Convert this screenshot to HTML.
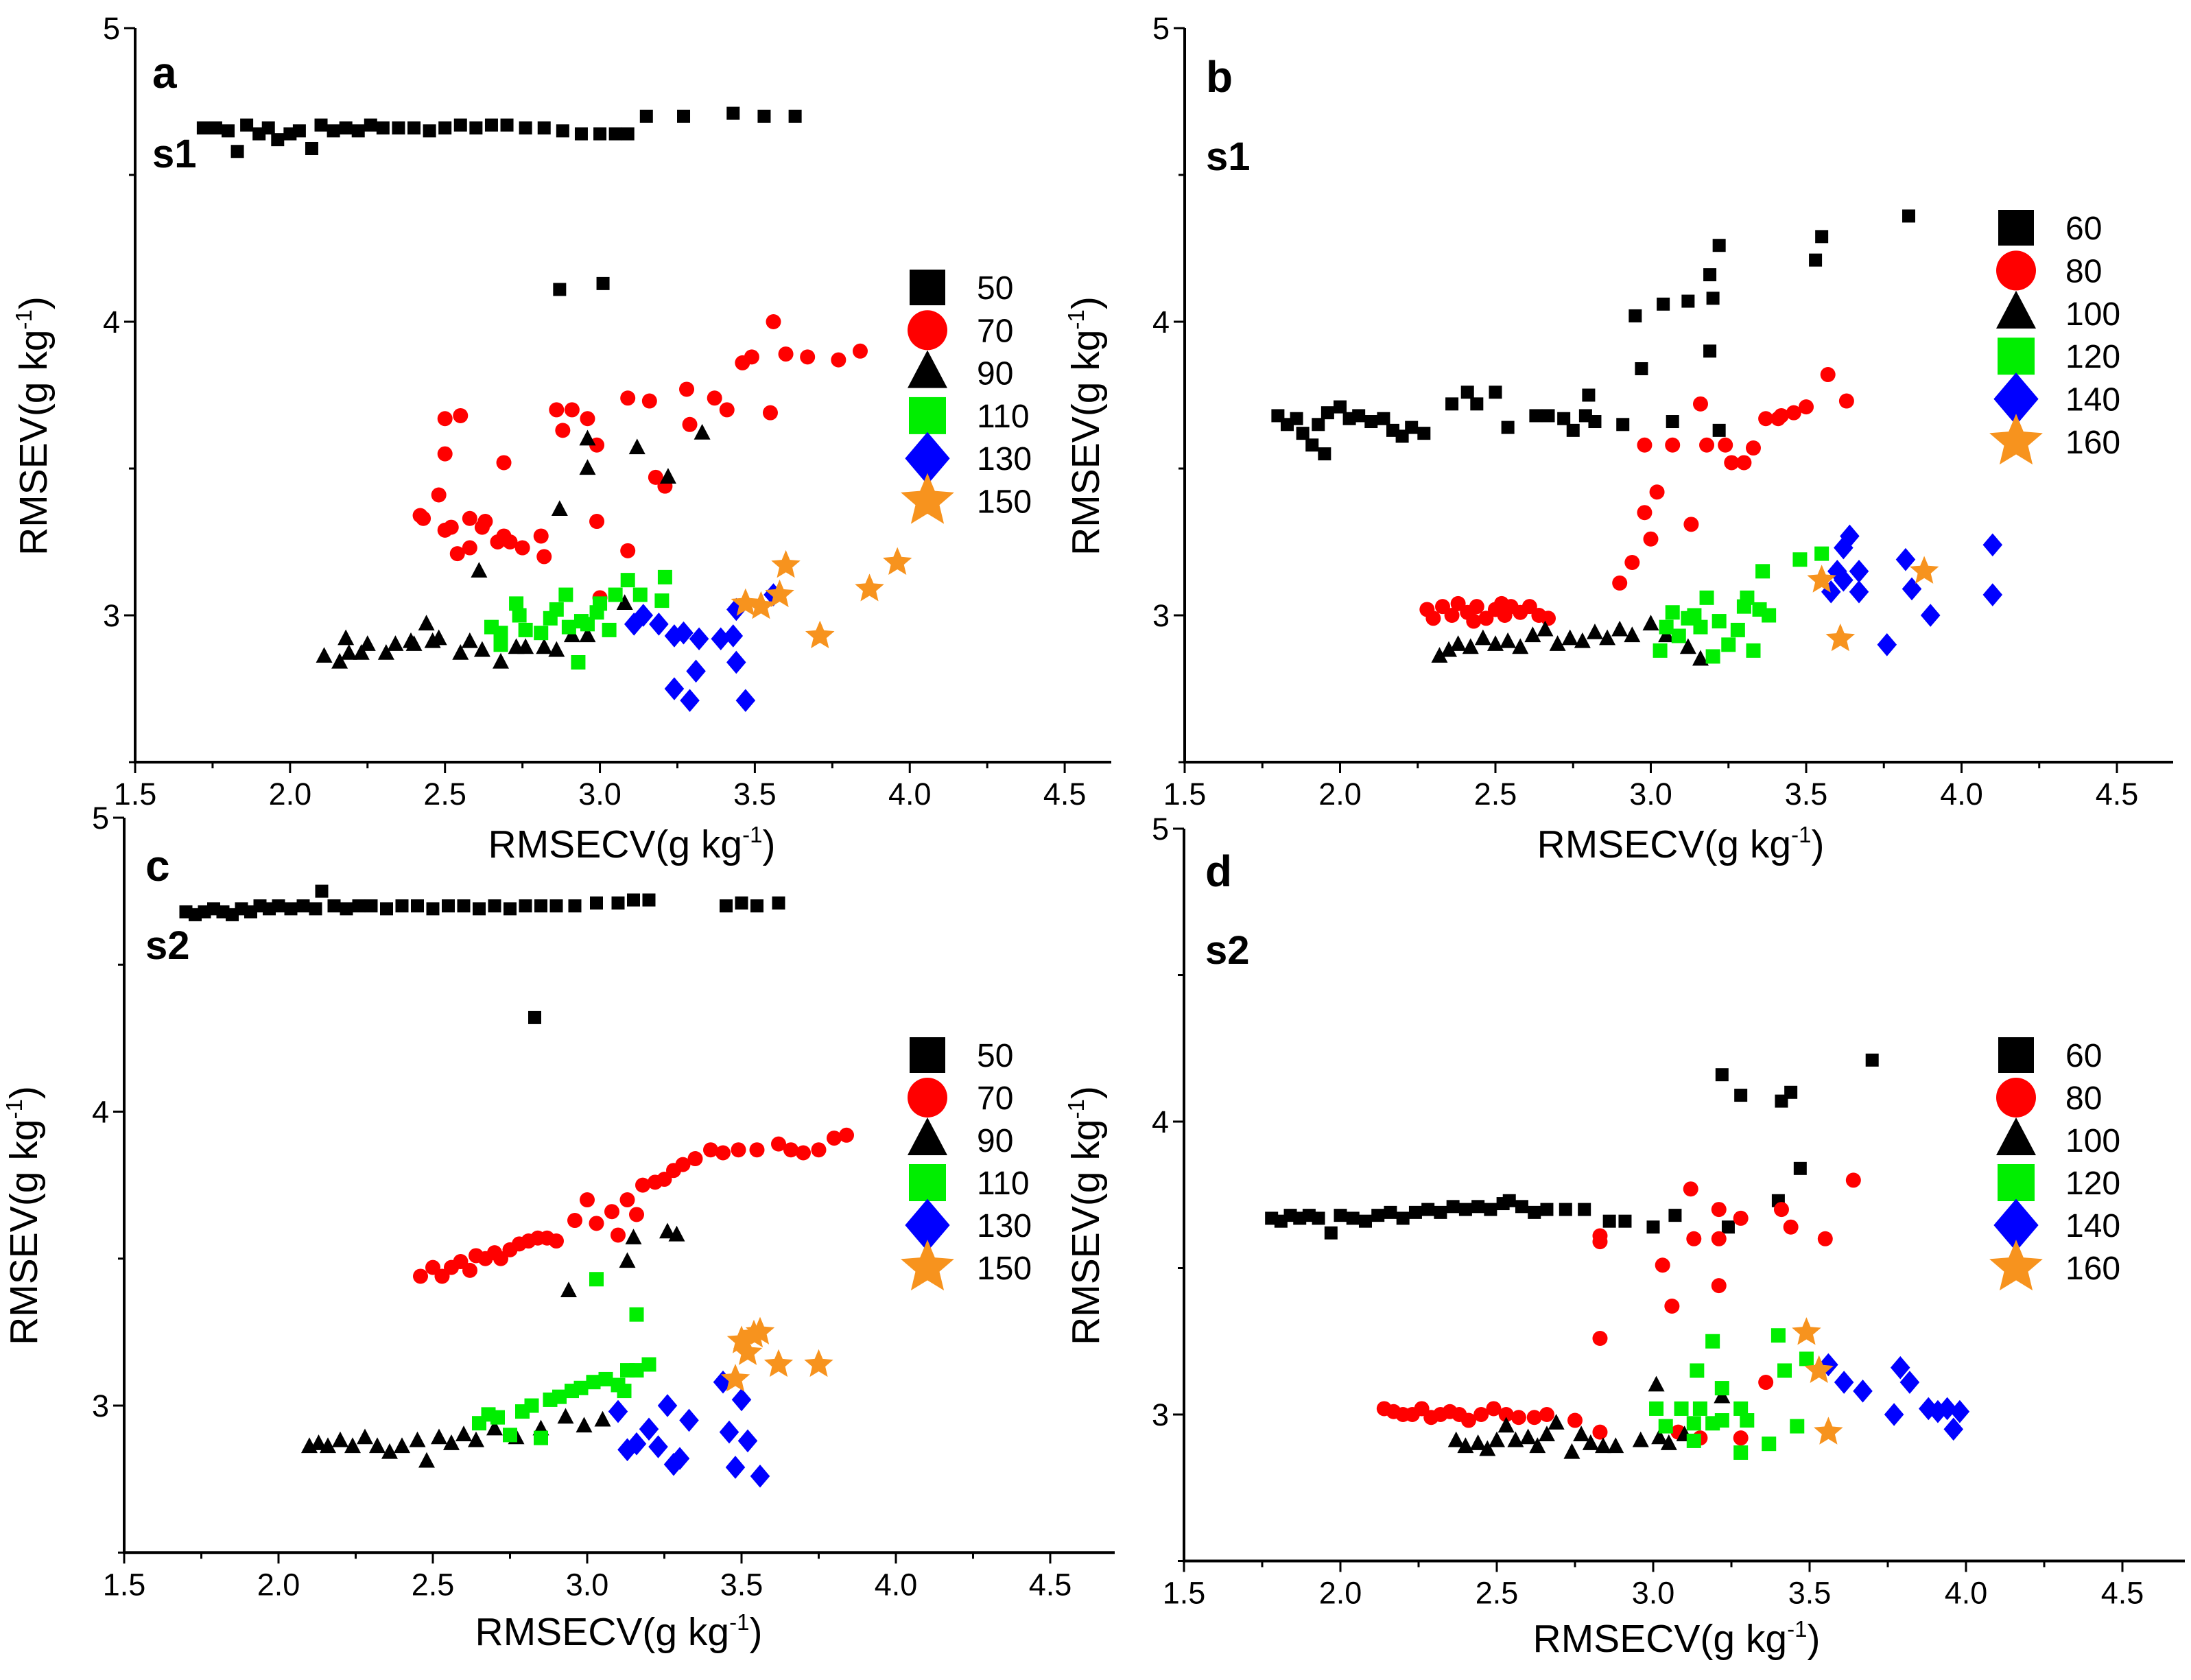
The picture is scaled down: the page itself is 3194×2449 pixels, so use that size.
<!DOCTYPE html>
<html><head><meta charset="utf-8">
<style>
html,body{margin:0;padding:0;background:#fff;}
svg{display:block;font-family:"Liberation Sans",Arial,sans-serif;}
</style></head>
<body>
<svg id="fig" width="3194" height="2449" viewBox="0 0 3194 2449" xmlns="http://www.w3.org/2000/svg">
<rect width="3194" height="2449" fill="#fff"/>
</svg>
<script>
// ---------- Panel a data ----------
const a50X=[1.72,1.76,1.80,1.83,1.86,1.90,1.93,1.96,2.00,2.03,2.07,2.10,2.14,2.18,2.22,2.26,2.30,2.35,2.40,2.45,2.50,2.55,2.60,2.65,2.70,2.76,2.82,2.88,2.94,3.00,3.05,3.09,3.15,3.27,3.43,3.53,3.63,2.87,3.01];
const a50Y=[4.66,4.66,4.65,4.58,4.67,4.64,4.66,4.62,4.64,4.65,4.59,4.67,4.65,4.66,4.65,4.67,4.66,4.66,4.66,4.65,4.66,4.67,4.66,4.67,4.67,4.66,4.66,4.65,4.64,4.64,4.64,4.64,4.70,4.70,4.71,4.70,4.70,4.11,4.13];
const a70X=[2.42,2.43,2.48,2.50,2.55,2.50,2.50,2.52,2.54,2.58,2.58,2.62,2.63,2.67,2.69,2.71,2.75,2.81,2.82,2.69,2.86,2.91,2.96,2.88,2.99,2.99,3.09,3.09,3.16,3.18,3.21,3.28,3.29,3.37,3.41,3.46,3.49,3.56,3.60,3.67,3.77,3.84,3.55,3.00];
const a70Y=[3.34,3.33,3.41,3.67,3.68,3.55,3.29,3.30,3.21,3.23,3.33,3.30,3.32,3.25,3.27,3.25,3.23,3.27,3.20,3.52,3.70,3.70,3.67,3.63,3.58,3.32,3.22,3.74,3.73,3.47,3.44,3.77,3.65,3.74,3.70,3.86,3.88,4.00,3.89,3.88,3.87,3.90,3.69,3.06];
const a90X=[2.11,2.16,2.18,2.19,2.23,2.25,2.31,2.34,2.39,2.40,2.44,2.46,2.48,2.55,2.58,2.62,2.68,2.73,2.76,2.82,2.86,2.91,2.96,3.08,2.61,2.87,2.96,2.96,3.12,3.22,3.33];
const a90Y=[2.86,2.84,2.92,2.87,2.87,2.90,2.87,2.90,2.91,2.90,2.97,2.91,2.92,2.87,2.91,2.88,2.84,2.89,2.89,2.89,2.88,2.93,2.93,3.04,3.15,3.36,3.50,3.60,3.57,3.47,3.62];
const a110X=[2.65,2.68,2.68,2.73,2.74,2.76,2.81,2.84,2.86,2.89,2.90,2.93,2.94,2.96,2.99,3.00,3.03,3.05,3.09,3.13,3.20,3.21];
const a110Y=[2.96,2.90,2.94,3.04,3.00,2.95,2.94,2.99,3.02,3.07,2.96,2.84,2.98,2.97,3.01,3.04,2.95,3.07,3.12,3.07,3.05,3.13];
const a130X=[3.11,3.14,3.19,3.24,3.27,3.32,3.39,3.43,3.31,3.24,3.29,3.44,3.47,3.44,3.56];
const a130Y=[2.97,3.00,2.97,2.93,2.94,2.92,2.92,2.93,2.81,2.75,2.71,2.84,2.71,3.02,3.07];
const a150X=[3.47,3.52,3.58,3.60,3.71,3.87,3.96];
const a150Y=[3.04,3.03,3.07,3.17,2.93,3.09,3.18];
// ---------- Panel b data ----------
const b60X=[1.80,1.83,1.86,1.88,1.91,1.93,1.95,1.96,2.00,2.03,2.06,2.10,2.14,2.17,2.20,2.23,2.27,2.36,2.41,2.44,2.50,2.54,2.63,2.67,2.72,2.75,2.79,2.80,2.82,2.91,2.95,2.97,3.04,3.07,3.12,3.20,3.19,3.22,3.19,3.22,3.53,3.55,3.83];
const b60Y=[3.68,3.65,3.67,3.62,3.58,3.65,3.55,3.69,3.71,3.67,3.68,3.66,3.67,3.63,3.61,3.64,3.62,3.72,3.76,3.72,3.76,3.64,3.68,3.68,3.67,3.63,3.68,3.75,3.66,3.65,4.02,3.84,4.06,3.66,4.07,4.08,4.16,4.26,3.90,3.63,4.21,4.29,4.36];
const b80X=[2.28,2.30,2.33,2.36,2.38,2.41,2.44,2.47,2.50,2.53,2.55,2.58,2.61,2.64,2.67,2.43,2.52,2.90,2.94,2.98,3.02,2.98,3.07,3.00,3.13,3.16,3.18,3.24,3.26,3.30,3.33,3.37,3.42,3.46,3.50,3.57,3.63,3.41];
const b80Y=[3.02,2.99,3.03,3.00,3.04,3.01,3.03,2.99,3.02,3.00,3.03,3.01,3.03,3.00,2.99,2.98,3.04,3.11,3.18,3.35,3.42,3.58,3.58,3.26,3.31,3.72,3.58,3.58,3.52,3.52,3.57,3.67,3.68,3.69,3.71,3.82,3.73,3.67];
const b100X=[2.32,2.35,2.38,2.42,2.46,2.50,2.54,2.58,2.62,2.66,2.70,2.74,2.78,2.82,2.86,2.90,2.94,3.00,3.05,3.12,3.16];
const b100Y=[2.86,2.88,2.90,2.89,2.92,2.90,2.91,2.89,2.93,2.95,2.90,2.92,2.91,2.94,2.92,2.95,2.93,2.97,2.93,2.89,2.85];
const b120X=[3.03,3.05,3.07,3.09,3.12,3.14,3.16,3.18,3.20,3.22,3.28,3.31,3.33,3.35,3.36,3.38,3.48,3.55,3.25,3.30];
const b120Y=[2.88,2.96,3.01,2.93,2.99,3.00,2.96,3.06,2.86,2.98,2.95,3.06,2.88,3.02,3.15,3.00,3.19,3.21,2.90,3.03];
const b140X=[3.58,3.60,3.62,3.64,3.67,3.67,3.62,3.76,3.82,3.84,3.90,4.10,4.10];
const b140Y=[3.08,3.15,3.23,3.27,3.15,3.08,3.12,2.90,3.19,3.09,3.00,3.24,3.07];
const b160X=[3.55,3.61,3.88];
const b160Y=[3.12,2.92,3.15];
// ---------- Panel c data ----------
const c50X=[1.70,1.73,1.76,1.79,1.82,1.85,1.88,1.91,1.94,1.97,2.00,2.04,2.08,2.12,2.14,2.18,2.22,2.26,2.30,2.35,2.40,2.45,2.50,2.55,2.60,2.65,2.70,2.75,2.80,2.85,2.90,2.96,3.03,3.10,3.15,3.20,3.45,3.50,3.55,3.62,2.83];
const c50Y=[4.68,4.67,4.68,4.69,4.68,4.67,4.69,4.68,4.70,4.69,4.70,4.69,4.70,4.69,4.75,4.70,4.69,4.70,4.70,4.69,4.70,4.70,4.69,4.70,4.70,4.69,4.70,4.69,4.70,4.70,4.70,4.70,4.71,4.71,4.72,4.72,4.70,4.71,4.70,4.71,4.32];
const c70X=[2.46,2.50,2.53,2.56,2.59,2.62,2.64,2.67,2.70,2.72,2.75,2.78,2.81,2.84,2.87,2.90,2.96,3.00,3.03,3.08,3.10,3.13,3.16,3.18,3.22,3.25,3.28,3.31,3.35,3.40,3.44,3.49,3.55,3.62,3.66,3.70,3.75,3.80,3.84];
const c70Y=[3.44,3.47,3.44,3.47,3.49,3.46,3.51,3.50,3.52,3.50,3.53,3.55,3.56,3.57,3.57,3.56,3.63,3.70,3.62,3.66,3.58,3.70,3.65,3.75,3.76,3.77,3.80,3.82,3.84,3.87,3.86,3.87,3.87,3.89,3.87,3.86,3.87,3.91,3.92];
const c90X=[2.10,2.13,2.16,2.20,2.24,2.28,2.32,2.36,2.40,2.45,2.48,2.52,2.56,2.60,2.64,2.70,2.77,2.85,2.93,2.99,3.05,2.94,3.13,3.15,3.26,3.29];
const c90Y=[2.86,2.87,2.86,2.88,2.86,2.89,2.86,2.84,2.86,2.88,2.81,2.89,2.87,2.90,2.88,2.92,2.89,2.92,2.96,2.93,2.95,3.39,3.49,3.57,3.59,3.58];
const c110X=[2.65,2.68,2.71,2.75,2.79,2.82,2.85,2.88,2.91,2.95,2.98,3.02,3.06,3.10,3.13,3.16,3.20,3.03,3.16,3.12];
const c110Y=[2.94,2.97,2.96,2.90,2.98,3.00,2.89,3.02,3.03,3.05,3.06,3.08,3.09,3.07,3.12,3.12,3.14,3.43,3.31,3.05];
const c130X=[3.10,3.13,3.16,3.20,3.23,3.26,3.28,3.30,3.33,3.44,3.46,3.48,3.50,3.52,3.56];
const c130Y=[2.98,2.85,2.87,2.92,2.86,3.00,2.80,2.82,2.95,3.08,2.91,2.79,3.02,2.88,2.76];
const c150X=[3.48,3.50,3.52,3.54,3.56,3.62,3.75];
const c150Y=[3.09,3.22,3.18,3.24,3.25,3.14,3.14];
// ---------- Panel d data ----------
const d60X=[1.78,1.81,1.84,1.87,1.90,1.93,1.97,2.00,2.04,2.08,2.12,2.16,2.20,2.24,2.28,2.32,2.36,2.40,2.44,2.48,2.52,2.54,2.58,2.62,2.66,2.72,2.78,2.86,2.91,3.00,3.07,3.24,3.22,3.28,3.41,3.44,3.40,3.47,3.70];
const d60Y=[3.67,3.66,3.68,3.67,3.68,3.67,3.62,3.68,3.67,3.66,3.68,3.69,3.67,3.69,3.70,3.69,3.71,3.70,3.71,3.70,3.72,3.73,3.71,3.69,3.70,3.70,3.70,3.66,3.66,3.64,3.68,3.64,4.16,4.09,4.07,4.10,3.73,3.84,4.21];
const d80X=[2.14,2.17,2.20,2.23,2.26,2.29,2.32,2.35,2.38,2.41,2.45,2.49,2.53,2.57,2.62,2.66,2.75,2.83,2.83,2.83,2.83,3.03,3.06,3.12,3.13,3.21,3.21,3.21,3.28,3.36,3.41,3.44,3.55,3.64,3.08,3.15,3.28];
const d80Y=[3.02,3.01,3.00,3.00,3.02,2.99,3.00,3.01,3.00,2.98,3.00,3.02,3.00,2.99,2.99,3.00,2.98,2.94,3.26,3.59,3.61,3.51,3.37,3.77,3.60,3.70,3.60,3.44,3.67,3.11,3.70,3.64,3.60,3.80,2.94,2.92,2.92];
const d100X=[2.37,2.40,2.44,2.47,2.50,2.53,2.56,2.60,2.63,2.66,2.69,2.74,2.77,2.80,2.84,2.88,2.96,3.02,3.05,3.01,3.22,3.10];
const d100Y=[2.91,2.89,2.90,2.88,2.91,2.96,2.91,2.92,2.89,2.93,2.97,2.87,2.93,2.90,2.89,2.89,2.91,2.92,2.90,3.10,3.06,2.93];
const d120X=[3.01,3.04,3.09,3.13,3.13,3.14,3.15,3.19,3.19,3.22,3.22,3.28,3.28,3.30,3.37,3.40,3.42,3.46,3.49];
const d120Y=[3.02,2.96,3.02,2.91,2.97,3.15,3.02,3.25,2.97,2.98,3.09,3.02,2.87,2.98,2.90,3.27,3.15,2.96,3.19];
const d140X=[3.56,3.61,3.67,3.77,3.79,3.82,3.88,3.91,3.94,3.96,3.98];
const d140Y=[3.17,3.11,3.08,3.00,3.16,3.11,3.02,3.01,3.02,2.95,3.01];
const d160X=[3.49,3.53,3.56];
const d160Y=[3.28,3.15,2.94];
// legend labels
const legendA=["50","70","90","110","130","150"];
const legendB=["60","80","100","120","140","160"];
const xTicks=[1.5,2.0,2.5,3.0,3.5,4.0,4.5];
const yTicks=[3,4,5];

const NS="http://www.w3.org/2000/svg";
const svg=document.getElementById('fig');
function mk(tag,attrs,parent){const e=document.createElementNS(NS,tag);for(const k in attrs)e.setAttribute(k,attrs[k]);(parent||svg).appendChild(e);return e;}
const COLORS=["#000000","#ff0000","#000000","#00ee00","#0000ff","#f7931e"];
const SHAPES=["square","circle","triangle","square","diamond","star"];

function marker(g,shape,color,cx,cy,s){
  let e;
  if(shape==="square"){e=mk('rect',{x:cx-s/2,y:cy-s/2,width:s,height:s,fill:color},g);}
  else if(shape==="circle"){e=mk('circle',{cx:cx,cy:cy,r:s/2,fill:color},g);}
  else if(shape==="triangle"){const h=s*0.95;e=mk('polygon',{points:`${cx},${cy-h*0.6} ${cx-s/2},${cy+h*0.4} ${cx+s/2},${cy+h*0.4}`,fill:color},g);}
  else if(shape==="diamond"){const r=s*0.6;e=mk('polygon',{points:`${cx},${cy-r} ${cx+r*0.85},${cy} ${cx},${cy+r} ${cx-r*0.85},${cy}`,fill:color},g);}
  else {const R=s*0.62,r=R*0.45;let p=[];for(let i=0;i<10;i++){const a=-Math.PI/2+i*Math.PI/5;const rr=i%2?r:R;p.push((cx+rr*Math.cos(a)).toFixed(1)+","+(cy+rr*Math.sin(a)).toFixed(1));}e=mk('polygon',{points:p.join(' '),fill:color},g);}
  return e;
}

function panel(cfg){
  const g=mk('g',{});
  
  
  const X=v=>cfg.x0+(v-1.5)*cfg.ux;
  const Y=v=>cfg.y5+(5-v)*cfg.uy;
  const yb=Y(2.5);
  const xa=mk('line',{x1:cfg.x0,y1:yb,x2:cfg.xEnd,y2:yb,stroke:"#000","stroke-width":4},g);
  
  
  const ya=mk('line',{x1:cfg.x0,y1:yb+2,x2:cfg.x0,y2:Y(5),stroke:"#000","stroke-width":4},g);
  
  
  for(let v=1.5;v<=cfg.xMax+1e-9;v+=0.25){
    const major=Math.abs(v*2-Math.round(v*2))<1e-6;
    mk('line',{x1:X(v),y1:yb,x2:X(v),y2:yb+(major?16:9),stroke:"#000","stroke-width":3},g);
  }
  xTicks.forEach(v=>{
    const t=mk('text',{x:X(v),y:yb+62,"font-size":45,"text-anchor":"middle",fill:"#000"},g);
    t.textContent=v.toFixed(1);
    
    
  });
  for(let v=2.5;v<=5;v+=0.5){
    const major=Math.abs(v-Math.round(v))<1e-6;
    mk('line',{x1:cfg.x0,y1:Y(v),x2:cfg.x0-(major?16:9),y2:Y(v),stroke:"#000","stroke-width":3},g);
  }
  yTicks.forEach(v=>{
    const t=mk('text',{x:cfg.x0-22,y:Y(v)+16,"font-size":45,"text-anchor":"end",fill:"#000"},g);
    t.textContent=String(v);
    
    
  });
  const xt=mk('text',{x:cfg.xtX,y:cfg.xtY,"font-size":57,"text-anchor":"middle",fill:"#000"},g);
  xt.innerHTML='RMSECV(g kg<tspan dy="-22" font-size="33">-1</tspan><tspan dy="22">)</tspan>';
  
  
  const yt=mk('text',{x:0,y:0,"font-size":57,"text-anchor":"middle",fill:"#000",transform:`translate(${cfg.ytX},${cfg.ytY}) rotate(-90)`},g);
  yt.innerHTML='RMSEV(g kg<tspan dy="-22" font-size="33">-1</tspan><tspan dy="22">)</tspan>';
  
  
  const pl=mk('text',{x:cfg.lx,y:cfg.ly,"font-size":64,"font-weight":"bold",fill:"#000"},g);
  pl.textContent=cfg.id;
  
  
  const sl=mk('text',{x:cfg.lx,y:cfg.sy,"font-size":58,"font-weight":"bold",fill:"#000"},g);
  sl.textContent=cfg.sub;
  
  
  const sizes=[19,22,24,21,28,36];
  cfg.series.forEach((s,i)=>{
    const sg=mk('g',{},g);
    
    
    s[0].forEach((xv,j)=>{
      const m=marker(sg,SHAPES[i],COLORS[i],X(xv),Y(s[1][j]),sizes[i]);
      
      
    });
  });
  const lg=mk('g',{},g);
  
  
  cfg.labels.forEach((lab,i)=>{
    const ly=cfg.legY+i*cfg.legDy;
    const ent=mk('g',{},lg);
    
    
    const ls=[52,58,58,54,64,66];
    marker(ent,SHAPES[i],COLORS[i],cfg.legX,ly,ls[i]);
    const t=mk('text',{x:cfg.legX+72,y:ly+17,"font-size":48,fill:"#000"},ent);
    t.textContent=lab;
  });
}

panel({id:'a',sub:'s1',x0:197,ux:451.7,y5:41,uy:428,xEnd:1620,xMax:4.6,xtX:921,xtY:1250,ytX:68,ytY:621,lx:222,ly:128,sy:244,legX:1352,legY:419,legDy:62.3,labels:legendA,
  series:[[a50X,a50Y],[a70X,a70Y],[a90X,a90Y],[a110X,a110Y],[a130X,a130Y],[a150X,a150Y]]});
panel({id:'b',sub:'s1',x0:1727,ux:453,y5:41,uy:428,xEnd:3168,xMax:4.6,xtX:2450,xtY:1250,ytX:1602,ytY:621,lx:1758,ly:134,sy:248,legX:2939,legY:332,legDy:62.4,labels:legendB,
  series:[[b60X,b60Y],[b80X,b80Y],[b100X,b100Y],[b120X,b120Y],[b140X,b140Y],[b160X,b160Y]]});
panel({id:'c',sub:'s2',x0:181,ux:450,y5:1192,uy:428.5,xEnd:1625,xMax:4.6,xtX:902,xtY:2398,ytX:54,ytY:1772,lx:212,ly:1284,sy:1398,legX:1352,legY:1538,legDy:62,labels:legendA,
  series:[[c50X,c50Y],[c70X,c70Y],[c90X,c90Y],[c110X,c110Y],[c130X,c130Y],[c150X,c150Y]]});
panel({id:'d',sub:'s2',x0:1726,ux:456,y5:1208,uy:427,xEnd:3185,xMax:4.6,xtX:2444,xtY:2408,ytX:1602,ytY:1772,lx:1757,ly:1292,sy:1405,legX:2939,legY:1538,legDy:62,labels:legendB,
  series:[[d60X,d60Y],[d80X,d80Y],[d100X,d100Y],[d120X,d120Y],[d140X,d140Y],[d160X,d160Y]]});
</script>
</body></html>
